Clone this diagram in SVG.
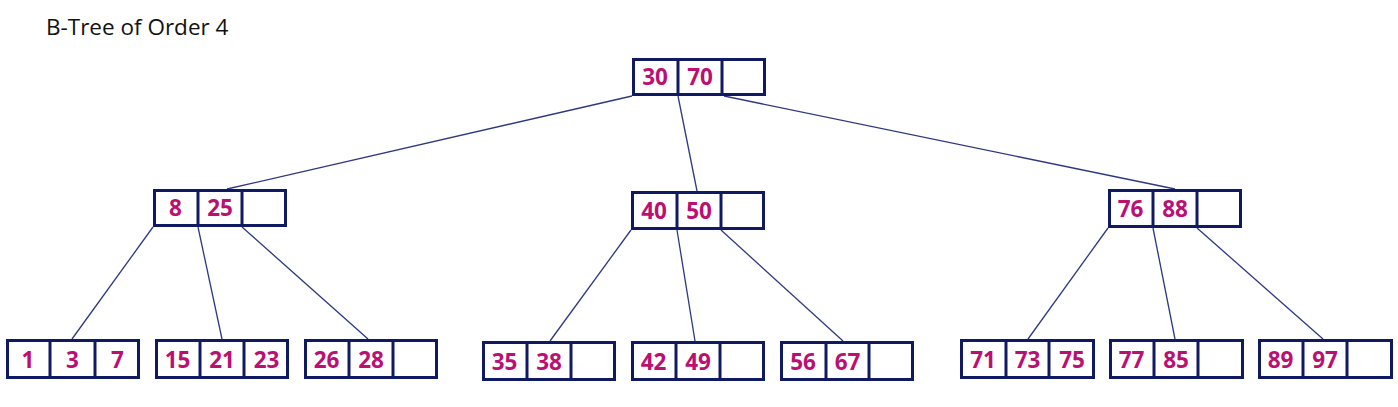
<svg xmlns="http://www.w3.org/2000/svg" width="1398" height="407" viewBox="0 0 1398 407">
<style>
.box{fill:#ffffff;stroke:#101a63;stroke-width:3}
.div{stroke:#101a63;stroke-width:3}
.k{font-family:"Open Sans","Noto Sans","Liberation Sans",sans-serif;font-weight:700;font-size:22.5px;fill:#bb0f72;text-anchor:middle}
.edge{stroke:#2d3782;stroke-width:1.3;fill:none}
.title{font-family:"Open Sans","Noto Sans","Liberation Sans",sans-serif;font-size:22.5px;fill:#111111}
</style>
<rect width="1398" height="407" fill="#ffffff"/>
<text class="title" x="46" y="35">B-Tree of Order 4</text>
<g id="connectors">
<line class="edge" x1="632" y1="96" x2="227" y2="189"/>
<line class="edge" x1="678" y1="96" x2="697" y2="191"/>
<line class="edge" x1="724" y1="96" x2="1175" y2="189"/>
<line class="edge" x1="153" y1="227" x2="72" y2="339"/>
<line class="edge" x1="198" y1="227" x2="222" y2="339"/>
<line class="edge" x1="242" y1="227" x2="368" y2="339"/>
<line class="edge" x1="631" y1="230" x2="550" y2="341"/>
<line class="edge" x1="677" y1="230" x2="695" y2="341"/>
<line class="edge" x1="721" y1="230" x2="843" y2="341"/>
<line class="edge" x1="1108" y1="228" x2="1028" y2="339"/>
<line class="edge" x1="1153" y1="228" x2="1175" y2="339"/>
<line class="edge" x1="1197" y1="228" x2="1323" y2="339"/>
</g>
<g id="root">
<rect class="box" x="633.5" y="59.5" width="131" height="35"/>
<line class="div" x1="678" y1="59.5" x2="678" y2="94.5"/>
<line class="div" x1="722" y1="59.5" x2="722" y2="94.5"/>
<text class="k" x="655" y="85">30</text><text class="k" x="700" y="85">70</text>
</g>
<g id="n1">
<rect class="box" x="154.5" y="190.5" width="131" height="35"/>
<line class="div" x1="198" y1="190.5" x2="198" y2="225.5"/>
<line class="div" x1="242" y1="190.5" x2="242" y2="225.5"/>
<text class="k" x="175.5" y="216">8</text><text class="k" x="220" y="216">25</text>
</g>
<g id="n2">
<rect class="box" x="632.5" y="192.5" width="131" height="36"/>
<line class="div" x1="677" y1="192.5" x2="677" y2="228.5"/>
<line class="div" x1="721" y1="192.5" x2="721" y2="228.5"/>
<text class="k" x="654" y="218.5">40</text><text class="k" x="699" y="218.5">50</text>
</g>
<g id="n3">
<rect class="box" x="1109.5" y="190.5" width="131" height="36"/>
<line class="div" x1="1153" y1="190.5" x2="1153" y2="226.5"/>
<line class="div" x1="1197" y1="190.5" x2="1197" y2="226.5"/>
<text class="k" x="1130.5" y="216.5">76</text><text class="k" x="1175" y="216.5">88</text>
</g>
<g id="l1">
<rect class="box" x="7.5" y="340.5" width="131" height="37"/>
<line class="div" x1="50" y1="340.5" x2="50" y2="377.5"/>
<line class="div" x1="95" y1="340.5" x2="95" y2="377.5"/>
<text class="k" x="28" y="367.5">1</text><text class="k" x="72.5" y="367.5">3</text><text class="k" x="117.5" y="367.5">7</text>
</g>
<g id="l2">
<rect class="box" x="156.5" y="340.5" width="131" height="37"/>
<line class="div" x1="200" y1="340.5" x2="200" y2="377.5"/>
<line class="div" x1="244" y1="340.5" x2="244" y2="377.5"/>
<text class="k" x="177.5" y="367.5">15</text><text class="k" x="222" y="367.5">21</text><text class="k" x="266.5" y="367.5">23</text>
</g>
<g id="l3">
<rect class="box" x="305.5" y="340.5" width="131" height="37"/>
<line class="div" x1="349" y1="340.5" x2="349" y2="377.5"/>
<line class="div" x1="393" y1="340.5" x2="393" y2="377.5"/>
<text class="k" x="326.5" y="367.5">26</text><text class="k" x="371" y="367.5">28</text>
</g>
<g id="l4">
<rect class="box" x="483.5" y="342.5" width="131" height="37"/>
<line class="div" x1="527" y1="342.5" x2="527" y2="379.5"/>
<line class="div" x1="571" y1="342.5" x2="571" y2="379.5"/>
<text class="k" x="504.5" y="369.5">35</text><text class="k" x="549" y="369.5">38</text>
</g>
<g id="l5">
<rect class="box" x="632.5" y="342.5" width="131" height="37"/>
<line class="div" x1="676" y1="342.5" x2="676" y2="379.5"/>
<line class="div" x1="720" y1="342.5" x2="720" y2="379.5"/>
<text class="k" x="653.5" y="369.5">42</text><text class="k" x="698" y="369.5">49</text>
</g>
<g id="l6">
<rect class="box" x="781.5" y="342.5" width="131" height="37"/>
<line class="div" x1="826" y1="342.5" x2="826" y2="379.5"/>
<line class="div" x1="869" y1="342.5" x2="869" y2="379.5"/>
<text class="k" x="803" y="369.5">56</text><text class="k" x="847.5" y="369.5">67</text>
</g>
<g id="l7">
<rect class="box" x="961.5" y="340.5" width="132" height="37"/>
<line class="div" x1="1006" y1="340.5" x2="1006" y2="377.5"/>
<line class="div" x1="1049" y1="340.5" x2="1049" y2="377.5"/>
<text class="k" x="983" y="367.5">71</text><text class="k" x="1027.5" y="367.5">73</text><text class="k" x="1072" y="367.5">75</text>
</g>
<g id="l8">
<rect class="box" x="1110.5" y="340.5" width="132" height="37"/>
<line class="div" x1="1154" y1="340.5" x2="1154" y2="377.5"/>
<line class="div" x1="1198" y1="340.5" x2="1198" y2="377.5"/>
<text class="k" x="1131.5" y="367.5">77</text><text class="k" x="1176" y="367.5">85</text>
</g>
<g id="l9">
<rect class="box" x="1259.5" y="340.5" width="132" height="37"/>
<line class="div" x1="1303" y1="340.5" x2="1303" y2="377.5"/>
<line class="div" x1="1347" y1="340.5" x2="1347" y2="377.5"/>
<text class="k" x="1280.5" y="367.5">89</text><text class="k" x="1325" y="367.5">97</text>
</g>
</svg>
